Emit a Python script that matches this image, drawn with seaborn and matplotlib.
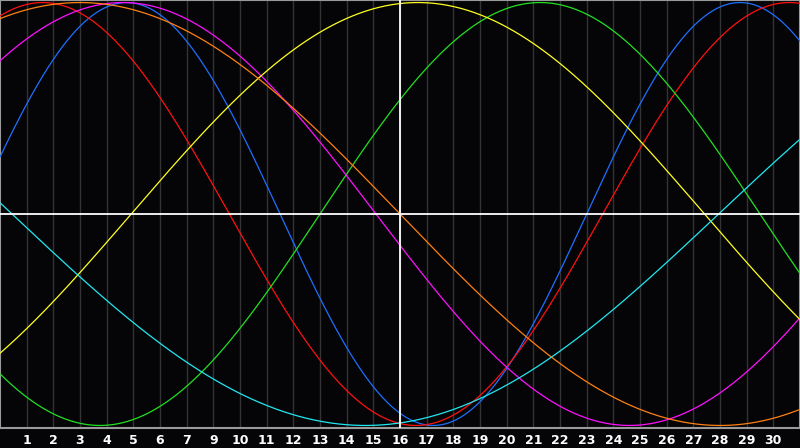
import numpy as np
import pandas as pd
import matplotlib
matplotlib.use("Agg")
import matplotlib.pyplot as plt
import seaborn as sns

# biorhythm cycles: period (days) and day of the month-view where each peaks
cycles = ["physical", "emotional", "intellectual", "intuitive", "aesthetic", "awareness", "spiritual"]
periods = [23, 28, 33, 38, 43, 48, 53]
peak_day = [4.75, 1.6, 20.25, 4.6, 15.67, 3.0, 40.2]
colors = ["#1f6fff", "#ff1010", "#22e022", "#ff10ff", "#ffff20", "#ff8010", "#20e8f0"]

tick_labels = ["1", "2", "3", "4", "5", "6", "7", "9", "10", "11", "12", "13", "14", "15",
               "16", "17", "18", "19", "20", "21", "22", "23", "24", "25", "26", "27",
               "28", "29", "30"]
today = 15

days = np.linspace(0, 30, 601)
frames = []
for name, p, pk in zip(cycles, periods, peak_day):
    frames.append(pd.DataFrame({"day": days,
                                "value": np.cos(2 * np.pi * (days - pk) / p),
                                "cycle": name}))
df = pd.concat(frames, ignore_index=True)

sns.set_style("dark")
fig = plt.figure(figsize=(8, 4.48), dpi=100, facecolor="#050508")
ax = fig.add_axes([0, 20 / 448, 1, 428 / 448])
ax.set_facecolor("#050508")

for i in range(1, 30):
    ax.axvline(i, color="#333333", lw=1.0, zorder=1)

sns.lineplot(data=df, x="day", y="value", hue="cycle", palette=dict(zip(cycles, colors)),
             linewidth=0.9, legend=False, ax=ax, zorder=3)

ax.axhline(0, color="white", lw=1.3, zorder=4)
ax.axvline(today, color="white", lw=1.3, zorder=4)

ax.set_xlim(0, 30)
ax.set_ylim(-1.012, 1.012)
ax.set_xticks(range(1, 30))
ax.set_xticklabels(tick_labels, color="white", fontsize=9, fontweight="bold",
                   family="DejaVu Sans")
ax.tick_params(axis="x", length=0, pad=4)
ax.set_yticks([])
ax.set_xlabel("")
ax.set_ylabel("")
ax.grid(False)
for side in ["top", "left", "bottom", "right"]:
    ax.spines[side].set_visible(True)
    ax.spines[side].set_color("#9a9a9a")
    ax.spines[side].set_linewidth(1.5)

fig.savefig("out.png", dpi=100, facecolor=fig.get_facecolor())
